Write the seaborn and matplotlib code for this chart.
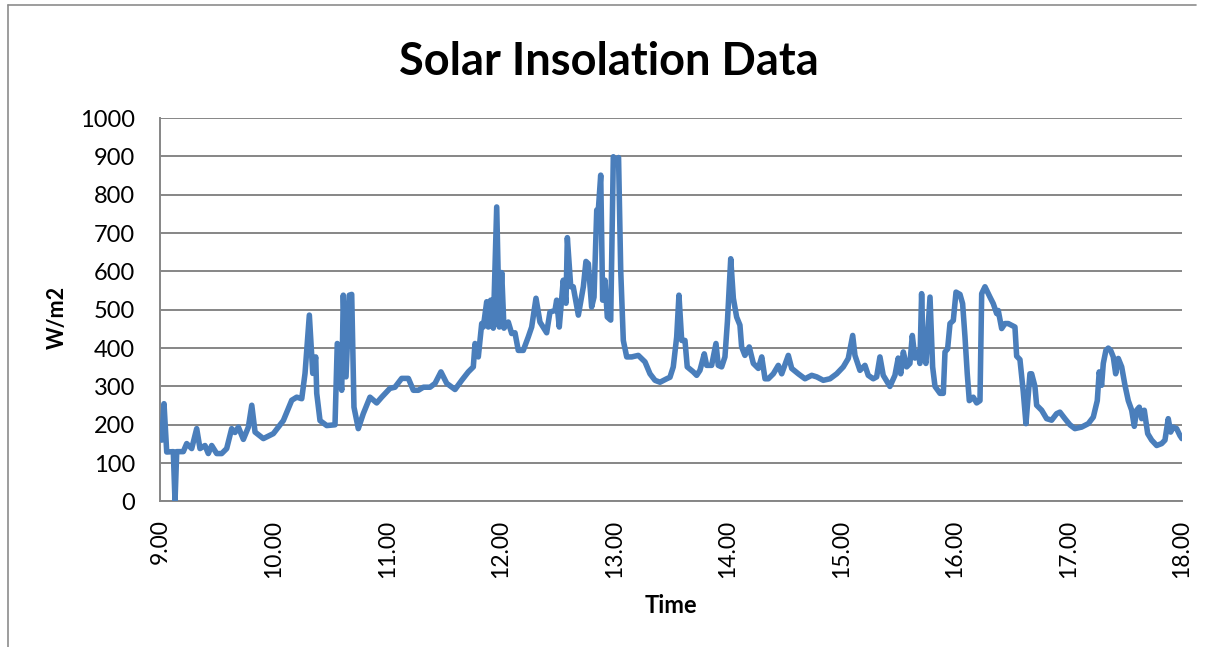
import matplotlib
matplotlib.use("Agg")
import matplotlib.pyplot as plt
import matplotlib.ticker as mticker
from matplotlib.lines import Line2D
import pandas as pd
import seaborn as sns

# Time of day in decimal hours
time_h = [
    9.000, 9.015, 9.035, 9.059, 9.117, 9.132, 9.147, 9.205, 9.235, 9.279,
    9.323, 9.352, 9.396, 9.425, 9.455, 9.499, 9.543, 9.587, 9.631, 9.660,
    9.690, 9.734, 9.778, 9.808, 9.837, 9.910, 9.998, 10.086, 10.160, 10.204,
    10.248, 10.277, 10.315, 10.345, 10.371, 10.380, 10.409, 10.468, 10.541, 10.561,
    10.600, 10.614, 10.638, 10.667, 10.688, 10.708, 10.746, 10.790, 10.849, 10.908,
    10.952, 11.025, 11.069, 11.128, 11.187, 11.231, 11.275, 11.319, 11.378, 11.422,
    11.474, 11.525, 11.598, 11.657, 11.715, 11.759, 11.774, 11.803, 11.833, 11.847,
    11.877, 11.891, 11.912, 11.935, 11.965, 11.988, 12.009, 12.029, 12.067, 12.097,
    12.126, 12.155, 12.199, 12.243, 12.273, 12.311, 12.346, 12.405, 12.434, 12.478,
    12.493, 12.516, 12.551, 12.575, 12.587, 12.617, 12.639, 12.684, 12.728, 12.751,
    12.772, 12.801, 12.822, 12.846, 12.860, 12.881, 12.898, 12.919, 12.939, 12.969,
    12.992, 13.016, 13.038, 13.057, 13.080, 13.110, 13.154, 13.212, 13.271, 13.315,
    13.359, 13.403, 13.462, 13.491, 13.520, 13.550, 13.570, 13.594, 13.623, 13.643,
    13.696, 13.726, 13.755, 13.793, 13.814, 13.858, 13.896, 13.916, 13.946, 13.975,
    13.997, 14.026, 14.049, 14.078, 14.107, 14.122, 14.151, 14.189, 14.225, 14.269,
    14.299, 14.328, 14.357, 14.401, 14.445, 14.475, 14.533, 14.563, 14.621, 14.680,
    14.739, 14.783, 14.841, 14.900, 14.959, 15.017, 15.061, 15.100, 15.120, 15.164,
    15.208, 15.237, 15.281, 15.311, 15.340, 15.369, 15.428, 15.472, 15.501, 15.523,
    15.546, 15.575, 15.604, 15.625, 15.648, 15.678, 15.692, 15.707, 15.722, 15.745,
    15.781, 15.804, 15.825, 15.869, 15.898, 15.913, 15.936, 15.957, 15.986, 16.010,
    16.045, 16.068, 16.089, 16.109, 16.127, 16.162, 16.192, 16.221, 16.236, 16.265,
    16.309, 16.338, 16.368, 16.382, 16.412, 16.441, 16.470, 16.529, 16.544, 16.573,
    16.602, 16.626, 16.661, 16.676, 16.705, 16.720, 16.764, 16.808, 16.852, 16.896,
    16.925, 16.969, 17.013, 17.057, 17.116, 17.175, 17.219, 17.254, 17.271, 17.292,
    17.307, 17.330, 17.351, 17.372, 17.395, 17.416, 17.439, 17.469, 17.498, 17.527,
    17.557, 17.580, 17.601, 17.624, 17.645, 17.668, 17.698, 17.733, 17.777, 17.821,
    17.850, 17.879, 17.900, 17.923, 17.953, 17.982, 18.000,
]

# Measured solar insolation, W/m2
insolation = [
    200, 160, 255, 129, 130, 0, 130, 130, 151, 138,
    190, 138, 146, 125, 146, 125, 125, 138, 190, 180,
    194, 162, 194, 251, 181, 164, 177, 211, 264, 272,
    268, 334, 486, 334, 377, 282, 211, 198, 200, 412,
    290, 538, 325, 538, 540, 246, 190, 229, 272, 257,
    272, 295, 298, 321, 321, 290, 290, 298, 298, 308,
    338, 308, 292, 316, 338, 351, 412, 377, 464, 455,
    521, 455, 525, 452, 768, 455, 597, 452, 468, 438,
    440, 394, 394, 429, 455, 530, 468, 440, 494, 498,
    525, 455, 577, 517, 688, 560, 560, 486, 560, 626,
    620, 507, 533, 760, 760, 851, 525, 577, 481, 473,
    899, 885, 897, 604, 420, 377, 377, 381, 364, 333,
    316, 311, 320, 324, 351, 429, 538, 420, 420, 351,
    338, 329, 342, 385, 355, 355, 412, 355, 351, 377,
    470, 633, 530, 481, 460, 403, 381, 403, 360, 347,
    377, 320, 320, 333, 355, 333, 381, 347, 333, 320,
    329, 325, 316, 320, 333, 351, 373, 433, 381, 342,
    355, 329, 320, 325, 377, 329, 300, 329, 374, 333,
    390, 351, 360, 433, 374, 390, 360, 542, 385, 360,
    533, 351, 300, 282, 282, 390, 398, 464, 472, 546,
    540, 516, 429, 333, 263, 272, 257, 263, 542, 560,
    533, 516, 490, 498, 451, 464, 464, 455, 379, 370,
    287, 203, 333, 333, 300, 251, 238, 216, 212, 229,
    233, 216, 200, 190, 194, 203, 220, 263, 338, 303,
    360, 394, 400, 394, 377, 333, 373, 351, 303, 263,
    238, 196, 238, 246, 216, 238, 177, 160, 146, 151,
    160, 216, 181, 194, 190, 172, 164,
]

hour_ticks = [9, 10, 11, 12, 13, 14, 15, 16, 17, 18]
value_ticks = [0, 100, 200, 300, 400, 500, 600, 700, 800, 900, 1000]

sns.set_theme(style="white")
plt.rcParams["font.family"] = ["Lato", "DejaVu Sans"]
plt.rcParams["text.color"] = "black"
plt.rcParams["axes.labelcolor"] = "black"

grid_grey = "#868686"
line_blue = "#4A7EBB"

fig = plt.figure(figsize=(12.05, 6.47), dpi=100)
ax = fig.add_axes([0.1328, 0.2249, 0.8481, 0.5927])

df = pd.DataFrame({"Time": time_h, "W/m2": insolation})
sns.lineplot(data=df, x="Time", y="W/m2", ax=ax, color=line_blue,
             linewidth=4.0, estimator=None, sort=False,
             solid_joinstyle="round", solid_capstyle="round", zorder=3)

ax.set_xlim(9, 18)
ax.set_ylim(0, 1000)
ax.set_xticks(hour_ticks)
ax.set_yticks(value_ticks)
ax.xaxis.set_major_formatter(mticker.FormatStrFormatter("%.2f"))

ax.yaxis.grid(True, color=grid_grey, linewidth=1.4)
ax.xaxis.grid(False)
ax.set_axisbelow(True)

for side in ("top", "right"):
    ax.spines[side].set_visible(False)
for side in ("left", "bottom"):
    ax.spines[side].set_color(grid_grey)
    ax.spines[side].set_linewidth(1.4)

ax.tick_params(axis="x", length=0, pad=13, labelsize=16.5, labelrotation=90,
               colors="black")
ax.tick_params(axis="y", length=0, pad=18, labelsize=17, colors="black")

ax.set_xlabel("Time", fontsize=17, fontweight="bold", va="top", color="black")
ax.xaxis.set_label_coords(0.5, -0.242)
ax.set_ylabel("W/m2", fontsize=15.5, fontweight="bold", color="black")
ax.yaxis.set_label_coords(-0.090, 0.48)

fig.text(0.505, 0.884, "Solar Insolation Data", ha="center", va="baseline",
         fontsize=32.5, fontweight="bold", color="black")

# chart-area frame along the top and left edges
fig.add_artist(Line2D([8 / 1205, 8 / 1205], [0, 1 - 5 / 647],
                      transform=fig.transFigure, color="#8C8C8C", linewidth=1.2))
fig.add_artist(Line2D([8 / 1205, 1196 / 1205], [1 - 5 / 647, 1 - 5 / 647],
                      transform=fig.transFigure, color="#8C8C8C", linewidth=1.2))

fig.savefig("out.png", dpi=100)
